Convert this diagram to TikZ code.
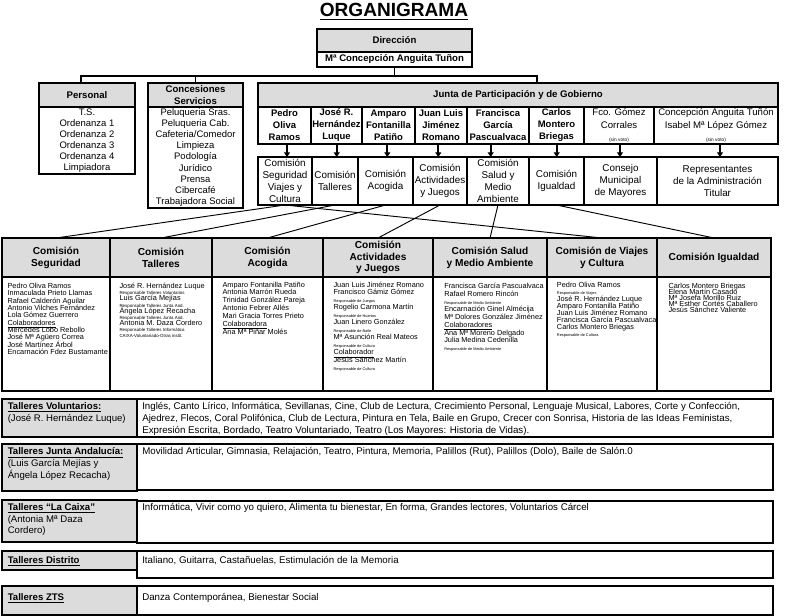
\documentclass[tikz,border=0pt]{standalone}
\usepackage{fontspec}
\setmainfont{Liberation Sans}
\usetikzlibrary{arrows.meta}
\definecolor{hdrgray}{RGB}{220,220,220}
\newcommand{\mkbox}[7]{\node[#6, minimum width={(#4-#2)*0.75pt}, minimum height={(#5-#3)*0.75pt}] (#1) at ({(#2+#4)/2},{(#3+#5)/2}) {#7};}
\newcommand{\rsp}[1]{{\fontsize{2.9}{3}\selectfont #1}}
\newcommand{\rspb}[1]{{\fontsize{3.3}{3.5}\selectfont #1}}
\newcommand{\uln}[1]{\underline{#1}}
\newcommand{\sinvoto}{{\fontsize{3.6}{4}\selectfont (sin voto)}}
\newcommand{\bodyfont}[1]{\fontsize{5.5}{#1}\selectfont\lineskiplimit=-100pt\lineskip=0pt\relax}
\tikzset{
  cell/.style={draw, line width=0.8pt, inner sep=0pt, outer sep=0pt, align=center},
  gcell/.style={cell, fill=hdrgray},
  fb/.style={font=\bfseries\fontsize{7.2}{9}\selectfont},
  fbc/.style={font=\bfseries\fontsize{7.2}{9.2}\selectfont},
  fm/.style={font=\bfseries\fontsize{7.1}{9}\selectfont},
  fmr/.style={font=\fontsize{7.2}{9.6}\selectfont},
  fc/.style={font=\fontsize{7.4}{8.8}\selectfont},
  fh/.style={font=\bfseries\fontsize{7.6}{8.8}\selectfont},
  flist/.style={font=\fontsize{7.1}{8.3}\selectfont},
  flist2/.style={font=\fontsize{7.1}{8.4}\selectfont},
  body/.style={anchor=north west, inner sep=0pt, align=left},
  tt/.style={anchor=north west, inner sep=0pt, align=left, font=\fontsize{7.2}{8.9}\selectfont},
  ttr/.style={anchor=north west, inner sep=0pt, align=left, font=\fontsize{7.3}{8.9}\selectfont},
  marr/.style={line width=1.6pt, -{Triangle[length=3.5pt,width=4.5pt]}},
  conn/.style={line width=0.8pt},
  link/.style={line width=0.7pt},
  shadowline/.style={line width=1.6pt},
}
\begin{document}
\begin{tikzpicture}[x=0.75pt,y=-0.75pt]
\useasboundingbox (0,0) rectangle (785,616);

% title
\node[font=\bfseries\fontsize{14.3}{16}\selectfont, anchor=base, inner sep=0pt] (title) at (394,17) {\underline{ORGANIGRAMA}};

% Direccion
\mkbox{dirH}{317}{29}{472}{52}{gcell,fb}{Dirección}
\mkbox{dirB}{317}{52}{472}{67}{cell,fb}{Mª Concepción Anguita Tuñon}

% Personal / Concesiones
\mkbox{persH}{39}{83}{135}{107}{gcell,fb}{Personal}
\mkbox{persB}{39}{107}{135}{174}{cell,flist}{T.S.\\Ordenanza 1\\Ordenanza 2\\Ordenanza 3\\Ordenanza 4\\Limpiadora}
\mkbox{concH}{148}{83}{243}{107}{gcell,fbc}{Concesiones\\Servicios}
\mkbox{concB}{148}{107}{243}{208}{cell,flist2}{Peluqueria Sras.\\Peluqueria Cab.\\Cafeteria/Comedor\\Limpieza\\Podología\\Jurídico\\Prensa\\Cibercafé\\Trabajadora Social}

% Junta
\mkbox{juntaH}{258}{83}{778}{107}{gcell,fb}{Junta de Participación y de Gobierno}
\mkbox{m1}{258}{107}{311}{144}{cell,fm}{Pedro\\Oliva\\Ramos}
\mkbox{m2}{311}{107}{362}{144}{cell,fm}{José R.\\Hernández\\Luque}
\mkbox{m3}{362}{107}{415}{144}{cell,fm}{Amparo\\Fontanilla\\Patiño}
\mkbox{m4}{415}{107}{467}{144}{cell,fm}{Juan Luis\\Jiménez\\Romano}
\mkbox{m5}{467}{107}{529}{144}{cell,fm}{Francisca\\García\\Pascualvaca}
\mkbox{m6}{529}{107}{584}{144}{cell,fm}{Carlos\\Montero\\Briegas}
\mkbox{m7}{584}{107}{654}{144}{cell,fmr}{Fco. Gómez\\Corrales\\\sinvoto}
\mkbox{m8}{654}{107}{778}{144}{cell,fmr}{Concepción Anguita Tuñón\\Isabel Mª López Gómez\\\sinvoto}

% small commissions
\mkbox{c1}{258}{157}{312}{205}{cell,fc}{Comisión\\Seguridad\\Viajes y\\Cultura}
\mkbox{c2}{312}{157}{358}{205}{cell,fc}{Comisión\\Talleres}
\mkbox{c3}{358}{157}{413}{205}{cell,fc}{Comisión\\Acogida}
\mkbox{c4}{413}{157}{467}{205}{cell,fc}{Comisión\\Actividades\\y Juegos}
\mkbox{c5}{467}{157}{529}{205}{cell,fc}{Comisión\\Salud y\\Medio\\Ambiente}
\mkbox{c6}{529}{157}{584}{205}{cell,fc}{Comisión\\Igualdad}
\mkbox{c7}{584}{157}{657}{205}{cell,fc}{Consejo\\Municipal\\de Mayores}
\mkbox{c8}{657}{157}{778}{205}{cell,fc}{Representantes\\de la Administración\\Titular}

% connectors top
\coordinate (busL) at (81,76);
\coordinate (busR) at (537,76);
\draw[conn] (dirB.south) -- (dirB.south |- busL);
\draw[conn] (busL |- persH.north) -- (busL) -- (busR) -- (busR |- juntaH.north);
\draw[conn] (concH.north) -- (concH.north |- busL);

% member arrows
\coordinate (a1) at (287,144);
\coordinate (a2) at (336.7,144);
\coordinate (a3) at (387.3,144);
\coordinate (a4) at (438.3,144);
\coordinate (a5) at (490.7,144);
\coordinate (a6) at (556.7,144);
\coordinate (a7) at (620,144);
\coordinate (a8) at (720,144);
\draw[marr] (a1) -- (a1 |- c1.north);
\draw[marr] (a2) -- (a2 |- c2.north);
\draw[marr] (a3) -- (a3 |- c3.north);
\draw[marr] (a4) -- (a4 |- c4.north);
\draw[marr] (a5) -- (a5 |- c5.north);
\draw[marr] (a6) -- (a6 |- c6.north);
\draw[marr] (a7) -- (a7 |- c7.north);
\draw[marr] (a8) -- (a8 |- c8.north);

% big commissions
\mkbox{bh1}{2}{238}{110}{277}{gcell,fh}{Comisión\\Seguridad}
\mkbox{bh2}{110}{238}{212}{277}{gcell,fh}{Comisión\\Talleres}
\mkbox{bh3}{212}{238}{323}{277}{gcell,fh}{Comisión\\Acogida}
\mkbox{bh4}{323}{238}{433}{277}{gcell,fh}{Comisión\\Actividades\\y Juegos}
\mkbox{bh5}{433}{238}{547}{277}{gcell,fh}{Comisión Salud\\y Medio Ambiente}
\mkbox{bh6}{547}{238}{657}{277}{gcell,fh}{Comisión de Viajes\\y Cultura}
\mkbox{bh7}{657}{238}{771}{277}{gcell,fh}{Comisión Igualdad}
\mkbox{bb1}{2}{277}{110}{391}{cell}{}
\mkbox{bb2}{110}{277}{212}{391}{cell}{}
\mkbox{bb3}{212}{277}{323}{391}{cell}{}
\mkbox{bb4}{323}{277}{433}{391}{cell}{}
\mkbox{bb5}{433}{277}{547}{391}{cell}{}
\mkbox{bb6}{547}{277}{657}{391}{cell}{}
\mkbox{bb7}{657}{277}{771}{391}{cell}{}

% links small -> big
\draw[link] (c1.south) -- (bh1.north);
\draw[link] (c1.south) -- (bh6.north);
\draw[link] (c2.south) -- (bh2.north);
\draw[link] (c3.south) -- (bh3.north);
\draw[link] (c4.south) -- (bh4.north);
\draw[link] (c5.south) -- (bh5.north);
\draw[link] (c6.south) -- (bh7.north);

% body texts
\node[body, font=\bodyfont{5.5}] (bt1) at (7.3,283) {Pedro Oliva Ramos\\Inmaculada Prieto Llamas\\Rafael Calderón Aguilar\\Antonio Vilches Fernández\\Lola Gómez Guerrero\\\uln{Colaboradores}\\Mercedes Lobo Rebollo\\José Mª Agüero Correa\\José Martínez Árbol\\Encarnación Fdez Bustamante};
\node[body, font=\bodyfont{4.6}] (bt2) at (119.3,283) {José R. Hernández Luque\\\rspb{Responsable Talleres Voluntarios}\\Luis García Mejías\\\rspb{Responsable Talleres Junta And.}\\Ángela López Recacha\\\rspb{Responsable Talleres Junta And.}\\Antonia M. Daza Cordero\\\rspb{Responsable Talleres Informática}\\\rspb{CAIXA-Voluntariado-Otras instit.}};
\node[body, font=\bodyfont{5.9}] (bt3) at (222.3,281.5) {Amparo Fontanilla Patiño\\Antonia Marrón Rueda\\Trinidad González Pareja\\Antonio Febrer Allés\\Mari Gracia Torres Prieto\\\uln{Colaboradora}\\Ana Mª Piñar Molés};
\node[body, font=\bodyfont{5.65}] (bt4) at (333.3,281.5) {Juan Luis Jiménez Romano\\Francisco Gámiz Gómez\\\rsp{Responsable de Juegos}\\Rogelio Carmona Martín\\\rsp{Responsable de Huertos}\\Juan Linero González\\\rsp{Responsable de Baile}\\Mª Asunción Real Mateos\\\rsp{Responsable de Cultura}\\\uln{Colaborador}\\Jesús Sánchez Martín\\\rsp{Responsable de Cultura}};
\node[body, font=\bodyfont{5.8}] (bt5) at (444,283) {Francisca García Pascualvaca\\Rafael Romero Rincón\\\rsp{Responsable de Medio Ambiente}\\Encarnación Ginel Almécija\\Mª Dolores González Jiménez\\\uln{Colaboradores}\\Ana Mª Moreno Delgado\\Julia Medina Cedenilla\\\rsp{Responsable de Medio Ambiente}};
\node[body, font=\bodyfont{5.3}] (bt6) at (556.7,281.5) {Pedro Oliva Ramos\\\rsp{Responsable de Viajes}\\José R. Hernández Luque\\Amparo Fontanilla Patiño\\Juan Luis Jiménez Romano\\Francisca García Pascualvaca\\Carlos Montero Briegas\\\rsp{Responsable de Cultura}};
\node[body, font=\bodyfont{4.5}] (bt7) at (668.3,283) {Carlos Montero Briegas\\Elena Martín Casado\\Mª Josefa Morillo Ruiz\\Mª Esther Cortés Caballero\\Jesús Sánchez Valiente};

% talleres rows
\mkbox{tl1}{2}{399}{137}{437}{gcell}{}
\mkbox{tr1}{137}{399}{773}{437}{cell}{}
\mkbox{tl2}{2}{444}{137}{491}{gcell}{}
\mkbox{tr2}{137}{444}{773}{490}{cell}{}
\mkbox{tl3}{2}{500}{137}{542}{gcell}{}
\mkbox{tr3}{137}{501}{773}{543}{cell}{}
\mkbox{tl4}{2}{551}{137}{570}{gcell}{}
\mkbox{tr4}{137}{551}{773}{578}{cell}{}
\mkbox{tl5}{2}{586}{137}{615}{gcell}{}
\mkbox{tr5}{137}{586}{773}{615}{cell}{}
\foreach \t in {tl1,tl2,tl3,tl4,tl5}{
  \draw[shadowline] (\t.north east) -- (\t.south east) -- (\t.south west);
}

\node[tt] (lt1) at (7.5,402.5) {\uln{\textbf{Talleres Voluntarios:}}\\(José R. Hernández Luque)};
\node[ttr] (rt1) at (142,402.5) {Inglés, Canto Lírico, Informática, Sevillanas, Cine, Club de Lectura, Crecimiento Personal, Lenguaje Musical, Labores, Corte y Confección,\\Ajedrez, Flecos, Coral Polifónica, Club de Lectura, Pintura en Tela, Baile en Grupo, Crecer con Sonrisa, Historia de las Ideas Feministas,\\Expresión Escrita, Bordado, Teatro Voluntariado, Teatro (Los Mayores: Historia de Vidas).};
\node[tt] (lt2) at (7.5,447.5) {\uln{\textbf{Talleres Junta Andalucía:}}\\(Luis García Mejías y\\Ángela López Recacha)};
\node[ttr] (rt2) at (142,447.5) {Movilidad Articular, Gimnasia, Relajación, Teatro, Pintura, Memoria, Palillos (Rut), Palillos (Dolo), Baile de Salón.0};
\node[tt] (lt3) at (7.5,503) {\uln{\textbf{Talleres “La Caixa”}}\\(Antonia Mª Daza\\Cordero)};
\node[ttr] (rt3) at (142,503) {Informática, Vivir como yo quiero, Alimenta tu bienestar, En forma, Grandes lectores, Voluntarios Cárcel};
\node[tt] (lt4) at (7.5,556.5) {\uln{\textbf{Talleres Distrito}}};
\node[ttr] (rt4) at (142,556.5) {Italiano, Guitarra, Castañuelas, Estimulación de la Memoria};
\node[tt] (lt5) at (7.5,593) {\uln{\textbf{Talleres ZTS}}};
\node[ttr] (rt5) at (142,593) {Danza Contemporánea, Bienestar Social};
\end{tikzpicture}
\end{document}
